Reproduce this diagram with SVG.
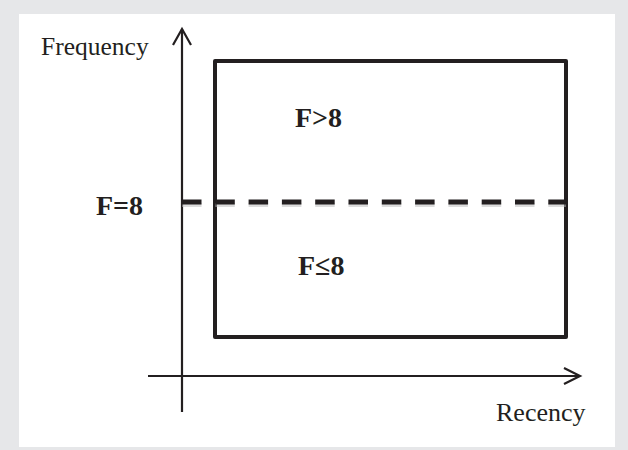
<svg xmlns="http://www.w3.org/2000/svg" width="628" height="450" viewBox="0 0 628 450">
<style>
.lbl{font-family:"Liberation Serif","Times New Roman",serif;fill:#231f20}
.b{font-weight:bold;font-size:28px}
.ax{stroke:#231f20;stroke-width:2.2;fill:none}
</style>
<rect x="0" y="0" width="628" height="450" fill="#e6e7e9"/>
<rect x="19" y="14" width="596" height="433" fill="#ffffff"/>
<g id="connectors">
<line class="ax" x1="182" y1="29" x2="182" y2="412"/>
<polyline class="ax" points="173,45 182,29 191,45"/>
<line class="ax" x1="148" y1="376" x2="579" y2="376"/>
<polyline class="ax" points="564,368 580,376 564,384"/>
</g>
<g id="box">
<rect x="215" y="61" width="351" height="276" fill="none" stroke="#231f20" stroke-width="4" stroke-linejoin="round"/>
</g>
<g id="threshold">
<line x1="182" y1="205" x2="566" y2="205" stroke="#bbbbbb" stroke-width="4" stroke-dasharray="19.5 13.8" opacity="0.5"/>
<line x1="182" y1="202" x2="566" y2="202" stroke="#231f20" stroke-width="5" stroke-dasharray="19.5 13.8"/>
</g>
<g id="labels">
<text class="lbl" x="41" y="55" font-size="25.5">Frequency</text>
<text class="lbl b" x="295" y="127">F&gt;8</text>
<text class="lbl b" x="96" y="215">F=8</text>
<text class="lbl b" x="298" y="275">F≤8</text>
<text class="lbl" x="496" y="421" font-size="26">Recency</text>
</g>
</svg>
